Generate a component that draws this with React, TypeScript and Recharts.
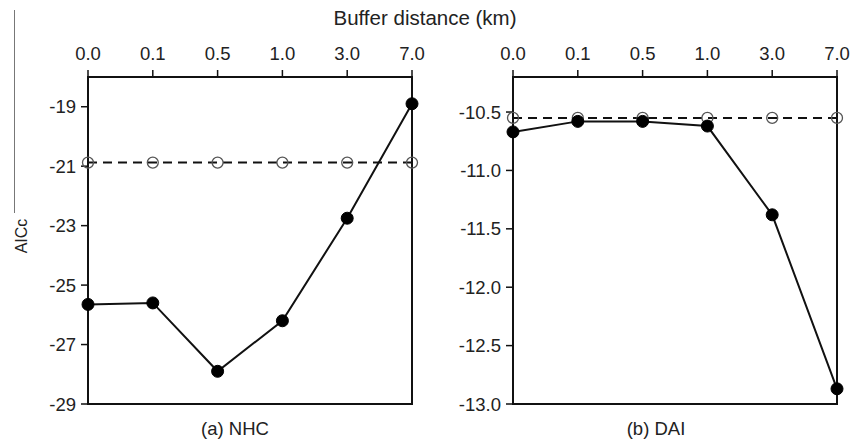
import { Line, LineChart, ReferenceArea, XAxis, YAxis } from "recharts";

const buffers = ["0.0", "0.1", "0.5", "1.0", "3.0", "7.0"];

const nhcBuffered = [-25.65, -25.6, -27.9, -26.2, -22.75, -18.9];
const nhcNoBuffer = [-20.88, -20.88, -20.88, -20.88, -20.88, -20.88];

const daiBuffered = [-10.67, -10.58, -10.58, -10.62, -11.38, -12.87];
const daiNoBuffer = [-10.55, -10.55, -10.55, -10.55, -10.55, -10.55];

const nhcTicks = [-29, -27, -25, -23, -21, -19];
const daiTicks = [-13.0, -12.5, -12.0, -11.5, -11.0, -10.5];

const FONT = "'Liberation Sans', Arial, sans-serif";
const TEXT = "#222";
const FS = 18.5;

const nhcData = buffers.map((buf, i) => ({
  buf,
  buffered: nhcBuffered[i],
  none: nhcNoBuffer[i],
}));

const daiData = buffers.map((buf, i) => ({
  buf,
  buffered: daiBuffered[i],
  none: daiNoBuffer[i],
}));

type PanelProps = {
  data: { buf: string; buffered: number; none: number }[];
  domain: [number, number];
  ticks: number[];
  format: (v: number) => string;
};

function TopTick(props: any) {
  const { x, y, payload } = props;
  return (
    <text x={x} y={y} textAnchor="middle" fontSize={FS} fontFamily={FONT} fill={TEXT}>
      {payload.value}
    </text>
  );
}

function Panel({ data, domain, ticks, format }: PanelProps) {
  const LeftTick = (props: any) => {
    const { x, y, payload } = props;
    return (
      <text
        x={x}
        y={y}
        dy="0.36em"
        textAnchor="end"
        fontSize={FS}
        fontFamily={FONT}
        fill={TEXT}
      >
        {format(payload.value)}
      </text>
    );
  };
  return (
    <LineChart
      width={425}
      height={443}
      data={data}
      margin={{ top: 0, right: 13, bottom: 39, left: 0 }}
    >
      <ReferenceArea
        x1={buffers[0]}
        x2={buffers[buffers.length - 1]}
        y1={domain[0]}
        y2={domain[1]}
        fill="none"
        stroke="#111"
        strokeWidth={2}
        ifOverflow="visible"
      />
      <XAxis
        dataKey="buf"
        orientation="top"
        height={77}
        tick={TopTick}
        tickSize={7}
        tickMargin={10}
        axisLine={{ stroke: "#111", strokeWidth: 2 }}
        tickLine={{ stroke: "#111", strokeWidth: 1.5 }}
        interval={0}
      />
      <YAxis
        domain={domain}
        ticks={ticks}
        type="number"
        width={88}
        tick={LeftTick}
        tickSize={7}
        tickMargin={5}
        allowDataOverflow
        axisLine={{ stroke: "#111", strokeWidth: 2 }}
        tickLine={{ stroke: "#111", strokeWidth: 1.5 }}
      />
      <Line
        dataKey="none"
        stroke="#111"
        strokeWidth={2}
        strokeDasharray="9 6"
        dot={{ r: 5.5, stroke: "#555", strokeWidth: 1.3, fill: "none", strokeDasharray: "0" }}
        isAnimationActive={false}
      />
      <Line
        dataKey="buffered"
        stroke="#111"
        strokeWidth={2}
        dot={{ r: 6, stroke: "#000", strokeWidth: 1, fill: "#000" }}
        isAnimationActive={false}
      />
    </LineChart>
  );
}

const textStyle = {
  position: "absolute" as const,
  fontSize: FS,
  color: TEXT,
  whiteSpace: "nowrap" as const,
  lineHeight: 1,
};

export default function App() {
  return (
    <div
      style={{
        position: "absolute",
        left: 0,
        top: 0,
        width: 850,
        height: 443,
        background: "#fff",
        fontFamily: FONT,
      }}
    >
      <div
        style={{
          position: "absolute",
          left: 14,
          top: 10,
          width: 1,
          height: 203,
          background: "#777",
        }}
      />
      <div
        style={{ ...textStyle, fontSize: 20.5, left: 0, width: 850, top: 8, textAlign: "center" }}
      >
        Buffer distance (km)
      </div>
      <div
        style={{
          ...textStyle,
          fontSize: 16,
          left: 22,
          top: 236,
          transform: "translate(-50%, -50%) rotate(-90deg)",
        }}
      >
        AICc
      </div>
      <div style={{ position: "absolute", left: 0, top: 0 }}>
        <Panel
          data={nhcData}
          domain={[-29, -18]}
          ticks={nhcTicks}
          format={(v) => String(v)}
        />
      </div>
      <div style={{ position: "absolute", left: 425, top: 0 }}>
        <Panel
          data={daiData}
          domain={[-13, -10.2]}
          ticks={daiTicks}
          format={(v) => v.toFixed(1)}
        />
      </div>
      <div style={{ ...textStyle, left: 235, top: 420, transform: "translateX(-50%)" }}>
        (a) NHC
      </div>
      <div style={{ ...textStyle, left: 656, top: 420, transform: "translateX(-50%)" }}>
        (b) DAI
      </div>
    </div>
  );
}
